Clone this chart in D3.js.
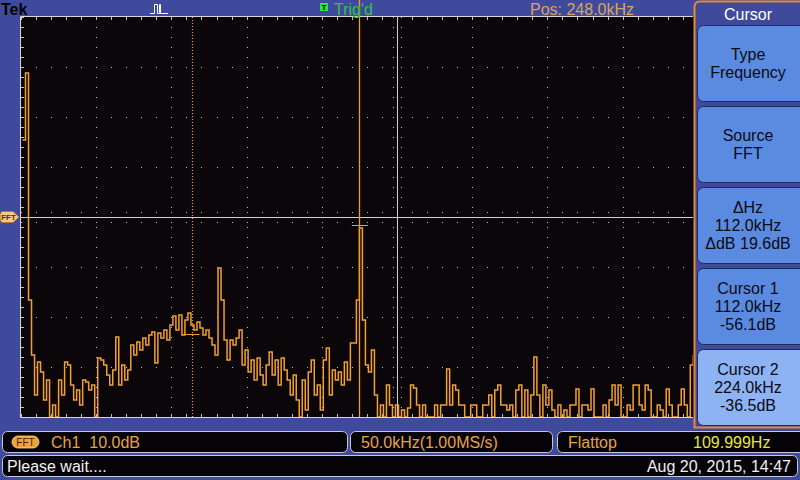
<!DOCTYPE html>
<html>
<head>
<meta charset="utf-8">
<script src="https://cdn.jsdelivr.net/npm/d3@7"></script>
<style>
  body { margin: 0; background: #3f4a9c; }
  svg { display: block; font-family: "Liberation Sans", Arial, sans-serif; }
</style>
</head>
<body>
<div class="viz"></div>
<script>
// FFT bins: first bin at -1 kHz, 2 kHz apart (50 kHz/div, 1.00 MS/s)
var binStartKHz = -1,
  binWidthKHz = 2;

// magnitude, dB (values at -75 sit on the bottom edge)
var spectrumDb = [
  -19.6, -6.2, -51.6, -62.6, -70.6, -64, -66, -71.6, -67.6, -75,
  -72.6, -75, -67.6, -70.6, -64, -64.6, -68.6, -71.6, -69.6, -72.6,
  -67.6, -68, -69.6, -68.6, -75, -63.2, -63.6, -64.6, -66.6, -68.6,
  -65.6, -59, -68.6, -64.6, -67.6, -65.6, -60.6, -62.6, -60, -61.6,
  -59.2, -60.6, -58.6, -58, -64.2, -58.2, -59.2, -57.6, -59.6, -56.6,
  -54.8, -57.6, -54.6, -58.6, -55.6, -54.2, -56.6, -57.6, -56, -57.2,
  -58.6, -57.6, -59.2, -60.6, -62.6, -45.2, -51.6, -59.6, -63.6, -59.6,
  -60.6, -59.2, -57.6, -64.6, -61.6, -66, -63.6, -67.6, -63.2, -66.6,
  -68.6, -64.6, -62, -66.6, -63.6, -68.6, -63.2, -65.6, -67.6, -70.6,
  -66.6, -71.6, -75, -67.6, -73.6, -66, -63.6, -70.6, -68.6, -73.6,
  -63.6, -61.2, -70.6, -65.6, -67.6, -66, -68.6, -64, -67.6, -60.2,
  -60.2, -51.6, -37.2, -55.6, -64.6, -66, -61.6, -70.6, -75, -72.6,
  -75, -68.6, -72.6, -75, -72.6, -75, -73.6, -75, -73.2, -68.6,
  -69.2, -72.6, -75, -72.6, -75, -75, -75, -72.6, -75, -72.6,
  -72.6, -65.4, -72.6, -68.6, -69.6, -72.6, -72.6, -75, -75, -72.6,
  -72.6, -75, -75, -72.6, -72.6, -70.6, -75, -69.6, -68.6, -72.6,
  -72.6, -73.6, -72.6, -75, -69.6, -68.6, -75, -69.6, -75, -70.6,
  -63, -70.6, -75, -68.6, -72.6, -69.6, -73.6, -75, -72.6, -75,
  -73.6, -75, -72.6, -72.6, -69.4, -75, -72.6, -72.6, -73.6, -69.4,
  -75, -75, -75, -72.6, -75, -71.6, -68.6, -72.6, -68.6, -75,
  -75, -72.6, -73.6, -68.6, -68.6, -72.6, -73.6, -68.6, -69.6, -75,
  -75, -72.6, -73.6, -75, -69.4, -72.6, -75, -75, -72.6, -69.4,
  -72.6, -75, -64.6, -62.6
];

var cursorKHz = [112, 224];
var cursorMarkDb = [-58.4, -36.5];
var refDb = -35; // FFT reference marker / screen centre

var menuTitle = "Cursor";
var menuButtons = [
  ["Type", "Frequency"],
  ["Source", "FFT"],
  ["\u0394Hz", "112.0kHz", "\u0394dB 19.6dB"],
  ["Cursor 1", "112.0kHz", "-56.1dB"],
  ["Cursor 2", "224.0kHz", "-36.5dB"],
];

var W = 800,
  H = 480,
  orange = "#f2a12e",
  textOrange = "#e8a24a",
  blue = "#3f4a9c";

var x = d3.scaleLinear().domain([-2, 498]).range([21, 773]),
  y = d3.scaleLinear().domain([5, -75]).range([17, 417]);

var majorX = d3.range(-2, 499, 50),
  minorX = d3.range(-2, 499, 10),
  majorY = d3.range(5, -76, -10),
  minorY = d3.range(5, -76, -2);

var svg = d3.select(".viz").append("svg").attr("width", W).attr("height", H);

svg.append("rect").attr("width", W).attr("height", H).attr("fill", blue);

svg.append("defs").append("clipPath").attr("id", "plotclip")
  .append("rect").attr("x", 21).attr("y", 17).attr("width", 672).attr("height", 400);

// screen
svg.append("rect").attr("x", 20).attr("y", 16).attr("width", 680).attr("height", 402)
  .attr("fill", "#0a0609");

var grid = svg.append("g").attr("clip-path", "url(#plotclip)").attr("fill", "#c0c0c0");

function dot(px, py) {
  grid.append("rect").attr("x", Math.round(px)).attr("y", Math.round(py))
    .attr("width", 1).attr("height", 1);
}

majorX.slice(1).forEach(function (f) {
  minorY.slice(1, -1).forEach(function (d) { dot(x(f), y(d)); });
});
majorY.slice(1, -1).forEach(function (d) {
  minorX.slice(1).forEach(function (f) { dot(x(f), y(d)); });
});
// centre crosshair ticks
minorX.forEach(function (f) { dot(x(f), y(refDb) - 5); dot(x(f), y(refDb) + 5); });
minorY.forEach(function (d) { dot(x(248) - 4, y(d)); dot(x(248) + 4, y(d)); });

// border ticks
minorY.forEach(function (d) {
  grid.append("rect").attr("x", 21).attr("y", Math.round(y(d))).attr("width", 3).attr("height", 1);
});
minorX.forEach(function (f) {
  grid.append("rect").attr("x", Math.round(x(f))).attr("y", 17).attr("width", 1).attr("height", 3);
  grid.append("rect").attr("x", Math.round(x(f))).attr("y", 414).attr("width", 1).attr("height", 3);
});

// centre lines
svg.append("line").attr("x1", 21).attr("x2", 693).attr("y1", Math.round(y(refDb)) + 0.5)
  .attr("y2", Math.round(y(refDb)) + 0.5).attr("stroke", "#d0d0d0");
svg.append("line").attr("x1", Math.round(x(248)) + 0.5).attr("x2", Math.round(x(248)) + 0.5)
  .attr("y1", 17).attr("y2", 417).attr("stroke", "#d0d0d0");

// frame
svg.append("path")
  .attr("d", "M693,16.5H20.5V417.5H693")
  .attr("fill", "none").attr("stroke", "#d8d8d8");

// trace
var line = d3.line()
  .x(function (d, i) { return x(binStartKHz + i * binWidthKHz); })
  .y(function (d) { return y(Math.max(d, -75)); })
  .curve(d3.curveStepAfter);

svg.append("path")
  .datum(spectrumDb)
  .attr("clip-path", "url(#plotclip)")
  .attr("d", line)
  .attr("fill", "none")
  .attr("stroke", orange)
  .attr("stroke-width", 1.5);

// cursors
svg.append("line")
  .attr("x1", Math.round(x(cursorKHz[0])) + 0.5).attr("x2", Math.round(x(cursorKHz[0])) + 0.5)
  .attr("y1", 17).attr("y2", 417)
  .attr("stroke", "#f0a040").attr("stroke-width", 1.2).attr("stroke-dasharray", "1,2");
svg.append("line")
  .attr("x1", Math.round(x(cursorKHz[1])) - 1.5).attr("x2", Math.round(x(cursorKHz[1])) - 1.5)
  .attr("y1", 0).attr("y2", 417)
  .attr("stroke", "#f39a2c").attr("stroke-width", 1.3);

cursorKHz.forEach(function (f, i) {
  svg.append("line")
    .attr("x1", x(f) - 9).attr("x2", x(f) + 7)
    .attr("y1", Math.round(y(cursorMarkDb[i])) + 0.5).attr("y2", Math.round(y(cursorMarkDb[i])) + 0.5)
    .attr("stroke", "#f39a2c");
});

// FFT reference marker on the left
var ry = y(refDb);
svg.append("path")
  .attr("d", "M3," + (ry - 5.5) + "H13L19," + ry + "L13," + (ry + 5.5) + "H3Q0," + (ry + 5.5) + " 0," + ry + "Q0," + (ry - 5.5) + " 3," + (ry - 5.5) + "Z")
  .attr("fill", "#f6c890").attr("stroke", "#c07020").attr("stroke-width", 0.8);
svg.append("text").attr("x", 8.5).attr("y", ry + 3).attr("text-anchor", "middle")
  .attr("font-size", 8).attr("font-weight", "bold").attr("fill", "#5a3000").text("FFT");

// header
svg.append("text").attr("x", 1).attr("y", 15).attr("font-size", 16).attr("font-weight", "bold")
  .attr("fill", "#000").text("Tek");
svg.append("path").attr("d", "M150,13.5H154.5V4.5H157.5V13.5H159.5V4.5H160.5V13.5H168")
  .attr("fill", "none").attr("stroke", "#fff").attr("stroke-width", 1);
svg.append("rect").attr("x", 320).attr("y", 3).attr("width", 8).attr("height", 8).attr("fill", "#2ee040");
svg.append("text").attr("x", 324).attr("y", 10).attr("text-anchor", "middle").attr("font-size", 8)
  .attr("font-weight", "bold").attr("fill", "#000").text("T");
svg.append("text").attr("x", 334).attr("y", 15).attr("font-size", 16).attr("fill", "#33c34a").text("Trig'd");
svg.append("text").attr("x", 530).attr("y", 15).attr("font-size", 16).attr("fill", "#d9a35e").text("Pos: 248.0kHz");

// side menu
var menu = svg.append("g");
menu.append("path")
  .attr("d", "M802,1.5H700Q694.5,1.5 694.5,7V427.5H802")
  .attr("fill", blue).attr("stroke", "#e88a2a").attr("stroke-width", 2);
menu.append("text").attr("x", 748).attr("y", 20).attr("text-anchor", "middle")
  .attr("font-size", 16).attr("fill", "#fff").text(menuTitle);

var btnTop = [25, 106, 187, 268, 349];
menuButtons.forEach(function (lines, i) {
  var g = menu.append("g").attr("transform", "translate(697," + btnTop[i] + ")");
  g.append("rect").attr("x", 0.5).attr("y", 0.5).attr("width", 110).attr("height", 76).attr("rx", 6)
    .attr("fill", i === 4 ? "#8db3f3" : "#5b8be0").attr("stroke", "#1c2a66");
  var n = lines.length, y0 = 38 - (n - 1) * 9;
  lines.forEach(function (t, k) {
    g.append("text").attr("x", 51).attr("y", y0 + k * 18 + 6).attr("text-anchor", "middle")
      .attr("font-size", 16).attr("fill", "#0a0a14").text(t);
  });
});

// status boxes
function box(x0, y0, w, h) {
  svg.append("rect").attr("x", x0 + 0.5).attr("y", y0 + 0.5).attr("width", w).attr("height", h)
    .attr("rx", 5).attr("fill", "#050308").attr("stroke", "#c8c8d8");
}
box(2, 431, 345, 21);
box(350, 431, 202, 21);
box(557, 431, 250, 21);
box(2, 455, 795, 21);

svg.append("rect").attr("x", 12).attr("y", 436).attr("width", 27).attr("height", 12).attr("rx", 6)
  .attr("fill", "#f0a23a").attr("stroke", "#ffd8a0").attr("stroke-width", 0.8);
svg.append("text").attr("x", 25.5).attr("y", 446).attr("text-anchor", "middle").attr("font-size", 10)
  .attr("fill", "#4a2400").text("FFT");
svg.append("text").attr("x", 51).attr("y", 448).attr("font-size", 16).attr("fill", textOrange).text("Ch1  10.0dB")
  .style("white-space", "pre");
svg.append("text").attr("x", 361).attr("y", 448).attr("font-size", 16).attr("fill", textOrange).text("50.0kHz(1.00MS/s)");
svg.append("text").attr("x", 568).attr("y", 448).attr("font-size", 16).attr("fill", textOrange).text("Flattop");
svg.append("text").attr("x", 693).attr("y", 448).attr("font-size", 16).attr("fill", "#e6e63a").text("109.999Hz");
svg.append("text").attr("x", 7).attr("y", 472).attr("font-size", 16).attr("fill", "#f0f0f0").text("Please wait....");
svg.append("text").attr("x", 791).attr("y", 472).attr("text-anchor", "end").attr("font-size", 16)
  .attr("fill", "#f0f0f0").text("Aug 20, 2015, 14:47");
</script>
</body>
</html>
